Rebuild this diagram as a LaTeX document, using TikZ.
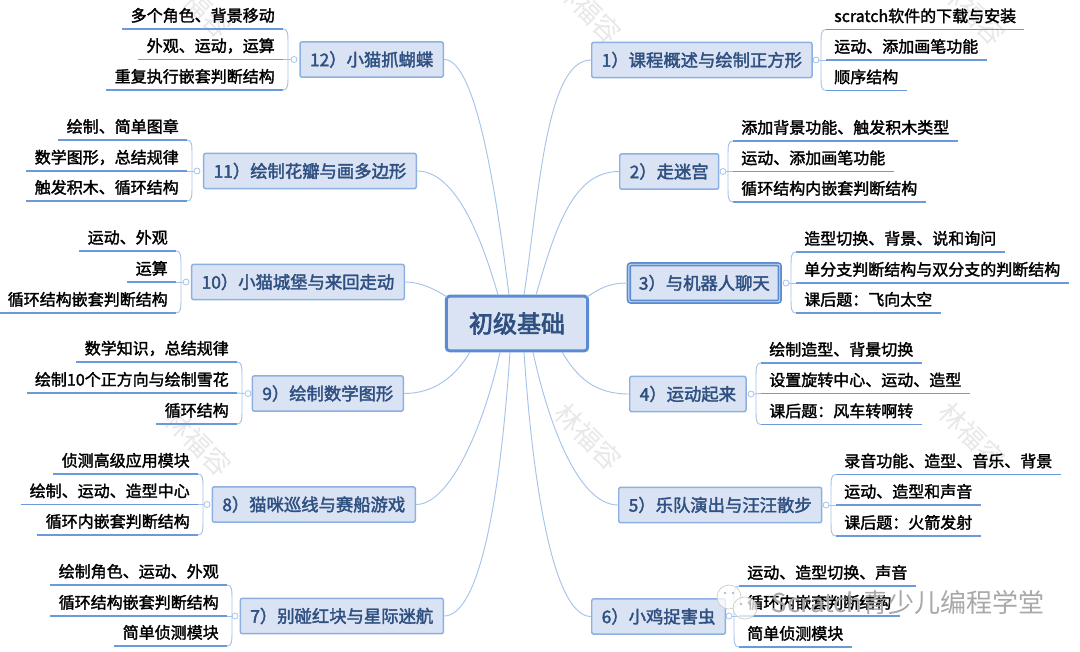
\documentclass[tikz,border=0pt]{standalone}
\usepackage{fontspec}
\setmainfont{Noto Sans CJK SC}
\newfontfamily\hubfont[FakeBold=3]{Noto Sans CJK SC}
\newfontfamily\topicfont[FakeBold=2.2]{Noto Sans CJK SC}
\newfontfamily\leaffont[FakeBold=1.8]{Noto Sans CJK SC}
\usepackage{xcolor}
\usetikzlibrary{calc}
\definecolor{boxfill}{HTML}{DAE3F3}
\definecolor{boxline}{HTML}{8DB0E2}
\definecolor{hubline}{HTML}{5B8BD0}
\definecolor{titleblue}{HTML}{2F5080}
\definecolor{branchline}{HTML}{A6C3EA}
\definecolor{leafline}{HTML}{6A9ADB}
\definecolor{markgray}{HTML}{E8E8E8}
\definecolor{brandgray}{HTML}{A8A8A8}
\tikzset{
  hubbox/.style={draw=hubline, line width=2.2pt, fill=boxfill, rounded corners=2.5pt, minimum width=106pt, minimum height=41pt, text=titleblue, font=\hubfont\fontsize{18}{18}\selectfont},
  topicbox/.style={draw=boxline, line width=1.1pt, fill=boxfill, rounded corners=1.5pt, inner xsep=7.5pt, inner ysep=0pt, minimum height=26.5pt, text=titleblue, font=\topicfont\fontsize{13}{13}\selectfont},
  leaftext/.style={inner xsep=6pt, inner ysep=2pt, minimum height=20pt, text=black, font=\leaffont\fontsize{12}{12}\selectfont, append after command={(\tikzlastnode.south west) edge[leafrule] (\tikzlastnode.south east)}},
  leafrule/.style={draw=leafline, line width=1.1pt},
  branch/.style={draw=branchline, line width=0.7pt},
  junction/.style={circle, draw=branchline, line width=0.6pt, inner sep=0pt, minimum size=4.5pt},
  markbox/.style={text=markgray, rotate=-45, font=\fontsize{20}{20}\selectfont},
  bubble/.style={draw=brandgray!60, fill=white, fill opacity=0.75, line width=0.5pt},
}
% bracket of the three leaves, on the right or the left of a topic
\newcommand{\bracketR}[4]{%
  \draw[branch] (#2.south west) .. controls +(-5,0) and +(0,-10) .. ($(#2.south west)+(-5,15)$) -- ($(#4.south west)+(-5,-15)$) .. controls +(0,10) and +(-5,0) .. (#4.south west);
  \draw[branch] (#1.east) -- (#3.south west);
}
\newcommand{\bracketL}[4]{%
  \draw[branch] (#2.south east) .. controls +(5,0) and +(0,-10) .. ($(#2.south east)+(5,15)$) -- ($(#4.south east)+(5,-15)$) .. controls +(0,10) and +(5,0) .. (#4.south east);
  \draw[branch] (#1.west) -- (#3.south east);
}
\begin{document}
\begin{tikzpicture}[x=0.75pt,y=-0.75pt]
  \useasboundingbox (0,0) rectangle (1080,652);
  \fill[white] (0,0) rectangle (1080,652);

  % Watermarks
  \node[markbox] (m1) at (588,10) {林福容};
  \node[markbox] (m2) at (972,12) {林福容};
  \node[markbox] (m3) at (198,5) {林福容};
  \node[markbox] (m4) at (588,437) {林福容};
  \node[markbox] (m5) at (972,436) {林福容};
  \node[markbox] (m6) at (198,443) {林福容};

  % Hub
  \node[hubbox] (hub) at (517,323.5) {初级基础};
  \coordinate (hubt1) at (498,295);
  \coordinate (hubt2) at (509,295);
  \coordinate (hubt3) at (524,295);
  \coordinate (hubt4) at (536,295);
  \coordinate (hubb1) at (500,352);
  \coordinate (hubb2) at (510,352);
  \coordinate (hubb3) at (524,352);
  \coordinate (hubb4) at (533,352);
  \coordinate (hubl1) at (447,297);
  \coordinate (hubl2) at (470,352);
  \coordinate (hubr1) at (587,297);
  \coordinate (hubr2) at (562,352);

  % Right topics
  \node[topicbox, anchor=west] (t1) at (591,60) {1）课程概述与绘制正方形};
  \node[topicbox, anchor=west] (t2) at (619,171.5) {2）走迷宫};
  \node[topicbox, anchor=west, double=boxfill, draw=hubline, double distance=0.6pt, minimum height=28pt, line width=1.3pt] (t3) at (628,283) {3）与机器人聊天};
  \node[topicbox, anchor=west] (t4) at (629,394) {4）运动起来};
  \node[topicbox, anchor=west] (t5) at (618,505) {5）乐队演出与汪汪散步};
  \node[topicbox, anchor=west] (t6) at (591,616.5) {6）小鸡捉害虫};

  % Left topics
  \node[topicbox, anchor=east] (t12) at (444,59.5) {12）小猫抓蝴蝶};
  \node[topicbox, anchor=east] (t11) at (417,171) {11）绘制花瓣与画多边形};
  \node[topicbox, anchor=east] (t10) at (405,282) {10）小猫城堡与来回走动};
  \node[topicbox, anchor=east] (t9) at (404,393.5) {9）绘制数学图形};
  \node[topicbox, anchor=east] (t8) at (416,504.5) {8）猫咪巡线与赛船游戏};
  \node[topicbox, anchor=east] (t7) at (444,616) {7）别碰红块与星际迷航};

  % Hub to topics
  \draw[branch] (hubt3) .. controls +(15,-100) and +(-45,0) .. (t1.west);
  \draw[branch] (hubt4) .. controls +(20,-70) and +(-45,0) .. (t2.west);
  \draw[branch] (hubr1) .. controls +(12,-8) and +(-20,0) .. (t3.west);
  \draw[branch] (hubr2) .. controls +(15,25) and +(-35,0) .. (t4.west);
  \draw[branch] (hubb4) .. controls +(15,70) and +(-40,0) .. (t5.west);
  \draw[branch] (hubb3) .. controls +(10,150) and +(-35,0) .. (t6.west);
  \draw[branch] (hubt2) .. controls +(-15,-120) and +(30,0) .. (t12.east);
  \draw[branch] (hubt1) .. controls +(-20,-70) and +(35,0) .. (t11.east);
  \draw[branch] (hubl1) .. controls +(-12,-8) and +(15,0) .. (t10.east);
  \draw[branch] (hubl2) .. controls +(-15,25) and +(30,0) .. (t9.east);
  \draw[branch] (hubb1) .. controls +(-15,70) and +(35,0) .. (t8.east);
  \draw[branch] (hubb2) .. controls +(-10,150) and +(35,0) .. (t7.east);

  % Junctions
  \node[junction] (j1) at (816,60) {};
  \node[junction] (j2) at (723,171.5) {};
  \node[junction] (j3) at (786,283) {};
  \node[junction] (j4) at (751,394) {};
  \node[junction] (j5) at (826,505) {};
  \node[junction] (j6) at (729,616) {};
  \node[junction] (j12) at (294,59.5) {};
  \node[junction] (j11) at (197,171) {};
  \node[junction] (j10) at (186,282) {};
  \node[junction] (j9) at (248,393.5) {};
  \node[junction] (j8) at (207,504.5) {};
  \node[junction] (j7) at (235,616) {};

  % Leaves, right
  \node[leaftext, anchor=south west] (l1a) at (826,29.5) {scratch软件的下载与安装};
  \node[leaftext, anchor=south west] (l1b) at (826,60) {运动、添加画笔功能};
  \node[leaftext, anchor=south west] (l1c) at (826,90.5) {顺序结构};
  \node[leaftext, anchor=south west] (l2a) at (733,141) {添加背景功能、触发积木类型};
  \node[leaftext, anchor=south west] (l2b) at (733,171.5) {运动、添加画笔功能};
  \node[leaftext, anchor=south west] (l2c) at (733,202) {循环结构内嵌套判断结构};
  \node[leaftext, anchor=south west] (l3a) at (796,252) {造型切换、背景、说和询问};
  \node[leaftext, anchor=south west] (l3b) at (796,283) {单分支判断结构与双分支的判断结构};
  \node[leaftext, anchor=south west] (l3c) at (796,313) {课后题：飞向太空};
  \node[leaftext, anchor=south west] (l4a) at (761,363) {绘制造型、背景切换};
  \node[leaftext, anchor=south west] (l4b) at (761,393.5) {设置旋转中心、运动、造型};
  \node[leaftext, anchor=south west] (l4c) at (761,424.5) {课后题：风车转啊转};
  \node[leaftext, anchor=south west] (l5a) at (836,474.5) {录音功能、造型、音乐、背景};
  \node[leaftext, anchor=south west] (l5b) at (836,505) {运动、造型和声音};
  \node[leaftext, anchor=south west] (l5c) at (836,536) {课后题：火箭发射};
  \node[leaftext, anchor=south west] (l6a) at (739,586) {运动、造型切换、声音};
  \node[leaftext, anchor=south west] (l6b) at (739,616) {循环内嵌套判断结构};
  \node[leaftext, anchor=south west] (l6c) at (739,647) {简单侦测模块};

  % Leaves, left
  \node[leaftext, anchor=south east] (l12a) at (283,29) {多个角色、背景移动};
  \node[leaftext, anchor=south east] (l12b) at (283,59.5) {外观、运动，运算};
  \node[leaftext, anchor=south east] (l12c) at (283,90) {重复执行嵌套判断结构};
  \node[leaftext, anchor=south east] (l11a) at (187,140) {绘制、简单图章};
  \node[leaftext, anchor=south east] (l11b) at (187,171) {数学图形，总结规律};
  \node[leaftext, anchor=south east] (l11c) at (187,201) {触发积木、循环结构};
  \node[leaftext, anchor=south east] (l10a) at (176,251) {运动、外观};
  \node[leaftext, anchor=south east] (l10b) at (176,282) {运算};
  \node[leaftext, anchor=south east] (l10c) at (176,313) {循环结构嵌套判断结构};
  \node[leaftext, anchor=south east] (l9a) at (237,362) {数学知识，总结规律};
  \node[leaftext, anchor=south east] (l9b) at (237,393) {绘制10个正方向与绘制雪花};
  \node[leaftext, anchor=south east] (l9c) at (237,424) {循环结构};
  \node[leaftext, anchor=south east] (l8a) at (198,474) {侦测高级应用模块};
  \node[leaftext, anchor=south east] (l8b) at (198,504.5) {绘制、运动、造型中心};
  \node[leaftext, anchor=south east] (l8c) at (198,535) {循环内嵌套判断结构};
  \node[leaftext, anchor=south east] (l7a) at (227,585) {绘制角色、运动、外观};
  \node[leaftext, anchor=south east] (l7b) at (227,616) {循环结构嵌套判断结构};
  \node[leaftext, anchor=south east] (l7c) at (227,646) {简单侦测模块};

  % Brackets
  \bracketR{j1}{l1a}{l1b}{l1c}
  \bracketR{j2}{l2a}{l2b}{l2c}
  \bracketR{j3}{l3a}{l3b}{l3c}
  \bracketR{j4}{l4a}{l4b}{l4c}
  \bracketR{j5}{l5a}{l5b}{l5c}
  \bracketR{j6}{l6a}{l6b}{l6c}
  \bracketL{j12}{l12a}{l12b}{l12c}
  \bracketL{j11}{l11a}{l11b}{l11c}
  \bracketL{j10}{l10a}{l10b}{l10c}
  \bracketL{j9}{l9a}{l9b}{l9c}
  \bracketL{j8}{l8a}{l8b}{l8c}
  \bracketL{j7}{l7a}{l7b}{l7c}

  % WeChat mark
  \draw[bubble] (729,597) ellipse (12 and 12);
  \draw[bubble] (745,608) ellipse (12 and 11);
  \fill[brandgray] (725,593) circle (1.2);
  \fill[brandgray] (733,593) circle (1.2);
  \fill[brandgray] (741,604) circle (1.2);
  \fill[brandgray] (750,604) circle (1.2);
  \node[text=brandgray, anchor=east, inner sep=0pt, font=\fontsize{19.5}{19.5}\selectfont] (brand) at (1045,603) {Scratch青少儿编程学堂};
\end{tikzpicture}
\end{document}
